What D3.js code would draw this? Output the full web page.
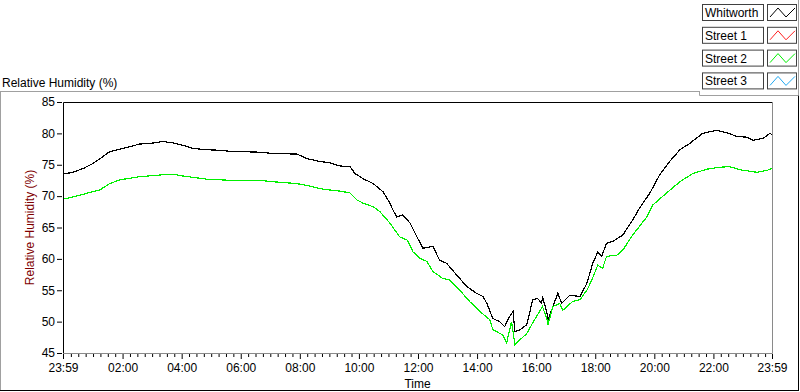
<!DOCTYPE html>
<html>
<head>
<meta charset="utf-8">
<script src="https://cdn.jsdelivr.net/npm/d3@7"></script>
<style>
	html, body { margin: 0; padding: 0; background: #fff; }
	svg { display: block; font-family: "Liberation Sans", Arial, sans-serif; }
</style>
</head>
<body>
<div id="chart"></div>
<script>
// series names (legend order)
const seriesNames = ['Whitworth', 'Street 1', 'Street 2', 'Street 3'];

// x axis tick labels (2 hour steps, first and last are the window edges)
const timeTickLabels = ['23:59', '02:00', '04:00', '06:00', '08:00', '10:00', '12:00',
	'14:00', '16:00', '18:00', '20:00', '22:00', '23:59'];
const humidityTicks = [45, 50, 55, 60, 65, 70, 75, 80, 85];

// Whitworth
const whitworthTimes = ['23:59', '00:19', '00:40', '01:00', '01:20', '01:34', '01:55', '02:15', '02:35',
	'02:56', '03:22', '03:42', '04:03', '04:23', '04:51', '05:18', '05:44', '05:58', '06:39', '07:05',
	'07:54', '08:14', '08:35', '09:01', '09:22', '09:42', '09:52', '10:08', '10:29', '10:49', '11:03',
	'11:09', '11:17', '11:29', '11:44', '11:58', '12:10', '12:30', '12:44', '12:58', '13:19', '13:39',
	'13:59', '14:12', '14:20', '14:32', '14:46', '14:56', '15:06', '15:13', '15:17', '15:27', '15:41',
	'15:53', '16:03', '16:11', '16:13', '16:22', '16:24', '16:34', '16:44', '16:52', '17:08', '17:29',
	'17:43', '17:55', '18:05', '18:13', '18:23', '18:36', '18:56', '19:16', '19:30', '19:51', '20:11',
	'20:31', '20:52', '21:12', '21:38', '22:07', '22:27', '22:48', '23:08', '23:20', '23:41', '23:55', '23:59'];
const whitworthValues = [73.5, 73.8, 74.4, 75.2, 76.3, 77.1, 77.5, 77.9, 78.3,
	78.4, 78.7, 78.5, 78.1, 77.6, 77.4, 77.3, 77.1, 77.1, 77.0, 76.8,
	76.7, 76.0, 75.6, 75.3, 74.8, 74.7, 73.6, 72.8, 72.0, 70.7, 68.9,
	67.8, 66.7, 67.0, 65.7, 63.5, 61.7, 62.0, 59.8, 59.3, 57.4, 55.6,
	54.5, 54.0, 52.9, 50.5, 50.0, 49.2, 50.8, 51.6, 48.4, 48.7, 49.5,
	53.5, 53.7, 52.9, 54.0, 51.3, 50.3, 52.4, 54.5, 52.9, 54.2, 54.0,
	56.1, 59.3, 61.1, 60.4, 62.5, 62.8, 63.8, 66.2, 68.1, 70.5, 73.4,
	75.5, 77.4, 78.4, 80.0, 80.5, 80.1, 79.5, 79.4, 78.9, 79.2, 80.0, 79.8];

// Street 1 and Street 3 have no samples in this window
const street1Times = [];
const street1Values = [];
const street3Times = [];
const street3Values = [];

// Street 2
const street2Times = ['23:59', '00:40', '01:14', '01:34', '01:55', '02:35', '03:22', '03:42', '04:03',
	'04:23', '04:51', '05:18', '05:44', '05:58', '06:39', '07:05', '07:54', '08:20', '08:47', '09:22',
	'09:42', '09:56', '10:08', '10:29', '10:43', '11:03', '11:23', '11:38', '11:50', '12:04', '12:18',
	'12:30', '12:50', '13:05', '13:25', '13:45', '14:06', '14:26', '14:32', '14:52', '15:00', '15:10',
	'15:17', '15:27', '15:41', '15:53', '16:13', '16:22', '16:24', '16:34', '16:48', '16:54', '17:14',
	'17:29', '17:43', '17:53', '18:05', '18:15', '18:23', '18:44', '18:56', '19:16', '19:45', '19:57',
	'20:25', '20:52', '21:18', '21:47', '22:13', '22:33', '22:54', '23:28', '23:49', '23:59'];
const street2Values = [69.5, 70.3, 71.0, 72.0, 72.6, 73.1, 73.4, 73.5, 73.2,
	73.0, 72.7, 72.6, 72.5, 72.5, 72.5, 72.3, 72.0, 71.6, 71.1, 70.8,
	70.5, 69.4, 68.9, 68.3, 67.5, 65.7, 63.5, 63.0, 61.1, 60.1, 59.6,
	58.0, 56.9, 56.6, 55.0, 53.2, 51.6, 50.3, 48.7, 47.9, 46.6, 50.0,
	46.3, 47.1, 48.1, 49.8, 52.4, 50.3, 49.5, 52.4, 52.9, 51.8, 53.2,
	53.5, 55.0, 56.6, 59.0, 58.5, 60.4, 60.6, 61.4, 63.8, 66.7, 68.6,
	70.5, 72.3, 73.6, 74.3, 74.6, 74.7, 74.2, 73.8, 74.1, 74.4];

(() => {
	const width = 800;
	const height = 392;
	const plot = { left: 63, right: 772, top: 102, bottom: 353 };
	const colors = ['#000000', '#ff2020', '#00f000', '#20a8f0'];
	const font = '"Liberation Sans", Arial, sans-serif';

	const start = new Date(2020, 0, 1, 23, 59);
	const end = d3.timeMinute.offset(start, 1440);

	// "HH:MM" -> date inside the 24 h window starting at 23:59
	const toDate = (s, i) => {
		const [h, m] = s.split(':').map(Number);
		let rel = (h * 60 + m - (23 * 60 + 59) + 1440) % 1440;
		if (rel === 0 && i > 0) rel = 1440;
		return d3.timeMinute.offset(start, rel);
	};

	const series = [
		{ times: whitworthTimes, values: whitworthValues },
		{ times: street1Times, values: street1Values },
		{ times: street2Times, values: street2Values },
		{ times: street3Times, values: street3Values },
	].map((s, i) => ({
		name: seriesNames[i],
		color: colors[i],
		points: s.times.map((t, j) => ({ date: toDate(t, j), value: s.values[j] })),
	}));

	const x = d3.scaleTime().domain([start, end]).range([plot.left, plot.right]);
	const y = d3.scaleLinear().domain([45, 85]).range([plot.bottom, plot.top]);

	const svg = d3.select('#chart').append('svg')
		.attr('width', width)
		.attr('height', height);

	// panel frame
	svg.append('line')
		.attr('x1', 0).attr('x2', 700).attr('y1', 91.5).attr('y2', 91.5)
		.attr('stroke', '#a0a0a0');
	svg.append('line')
		.attr('x1', 0.5).attr('x2', 0.5).attr('y1', 91.5).attr('y2', 390.5)
		.attr('stroke', '#a0a0a0');
	svg.append('line')
		.attr('x1', 0).attr('x2', 799).attr('y1', 390.5).attr('y2', 390.5)
		.attr('stroke', '#000');
	svg.append('line')
		.attr('x1', 798.5).attr('x2', 798.5).attr('y1', 95).attr('y2', 391)
		.attr('stroke', '#000');
	svg.append('path')
		.attr('d', 'M699.5,91.5V95.5H798.5V0')
		.attr('fill', 'none')
		.attr('stroke', '#a0a0a0');

	// title
	svg.append('text')
		.attr('x', 2).attr('y', 87)
		.style('font-size', '12px')
		.text('Relative Humidity (%)');

	// plot frame
	svg.append('path')
		.attr('d', `M${plot.left + 0.5},${plot.bottom}V${plot.top + 0.5}H${plot.right}`)
		.attr('fill', 'none').attr('stroke', '#000');
	svg.append('path')
		.attr('d', `M${plot.left},${plot.bottom + 0.5}H${plot.right + 0.5}V${plot.top}`)
		.attr('fill', 'none').attr('stroke', '#8a8a8a');

	// y axis
	const yAxis = svg.append('g')
		.attr('transform', `translate(${plot.left - 1},0)`)
		.call(d3.axisLeft(y).tickValues(humidityTicks).tickSize(5).tickPadding(2))
		.style('font-size', '12px')
		.style('font-family', font);
	yAxis.select('.domain').remove();
	yAxis.selectAll('.tick line').attr('stroke', '#000');
	yAxis.selectAll('.tick text').attr('fill', '#000');

	// x axis, major ticks
	const majorDates = timeTickLabels.map((t, i) => toDate(t, i));
	const xAxis = svg.append('g')
		.attr('transform', `translate(0,${plot.bottom + 1})`)
		.call(d3.axisBottom(x).tickValues(majorDates).tickSize(5).tickPadding(4)
			.tickFormat((d, i) => timeTickLabels[i]))
		.style('font-size', '12px')
		.style('font-family', font);
	xAxis.select('.domain').remove();
	xAxis.selectAll('.tick line').attr('stroke', '#000');
	xAxis.selectAll('.tick text').attr('fill', '#000');

	// minor ticks every 15 minutes
	const minorDates = d3.timeMinute.every(15).range(d3.timeMinute.offset(start, 5), end)
		.filter(d => d.getMinutes() !== 0 || d.getHours() % 2 !== 0);
	const minorAxis = svg.append('g')
		.attr('transform', `translate(0,${plot.bottom + 1})`)
		.call(d3.axisBottom(x).tickValues(minorDates).tickSize(3).tickFormat(''));
	minorAxis.select('.domain').remove();
	minorAxis.selectAll('.tick line').attr('stroke', '#000');

	// axis names
	svg.append('text')
		.attr('x', (plot.left + plot.right) / 2).attr('y', 388)
		.attr('text-anchor', 'middle')
		.style('font-size', '12px')
		.text('Time');
	svg.append('text')
		.attr('transform', `translate(34,${(plot.top + plot.bottom) / 2}) rotate(-90)`)
		.attr('text-anchor', 'middle')
		.style('font-size', '12px')
		.attr('fill', '#800000')
		.text('Relative Humidity (%)');

	// lines
	svg.append('clipPath').attr('id', 'plot-clip')
		.append('rect')
		.attr('x', plot.left + 1).attr('y', plot.top + 1)
		.attr('width', plot.right - plot.left - 1).attr('height', plot.bottom - plot.top - 1);

	const line = d3.line()
		.x(d => x(d.date))
		.y(d => y(d.value));

	svg.append('g')
		.attr('clip-path', 'url(#plot-clip)')
		.selectAll('path')
		.data(series.filter(s => s.points.length))
		.enter()
		.append('path')
		.attr('d', s => line(s.points))
		.attr('fill', 'none')
		.attr('stroke', s => s.color)
		.attr('stroke-width', 1.2)
		.attr('shape-rendering', 'crispEdges');

	// legend
	const legend = svg.append('g').selectAll('g')
		.data(series)
		.enter()
		.append('g')
		.attr('transform', (d, i) => `translate(702,${4 + i * 22.8})`);

	legend.append('rect')
		.attr('x', 0.5).attr('y', 0.5)
		.attr('width', 61).attr('height', 16)
		.attr('fill', '#fff').attr('stroke', '#404040');
	legend.append('text')
		.attr('x', 3).attr('y', 13)
		.style('font-size', '12px')
		.text(d => d.name);
	legend.append('rect')
		.attr('x', 65.5).attr('y', 0.5)
		.attr('width', 29).attr('height', 16)
		.attr('fill', '#fff').attr('stroke', '#404040');
	legend.append('path')
		.attr('d', 'M68,13L76,4L84,13L93,4')
		.attr('fill', 'none')
		.attr('stroke', d => d.color);
})();
</script>
</body>
</html>
